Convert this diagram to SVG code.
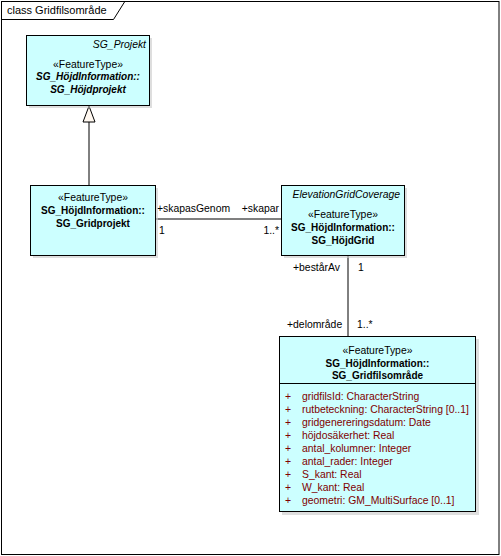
<svg xmlns="http://www.w3.org/2000/svg" width="501" height="556" viewBox="0 0 501 556">
<style>
text{font-family:"Liberation Sans",Arial,sans-serif;fill:#000}
.r{font-size:10.4px}
.b{font-size:10px;font-weight:bold}
.bi{font-size:10px;font-weight:bold;font-style:italic}
.i{font-size:10.4px;font-style:italic}
.m{text-anchor:middle}
.e{text-anchor:end}
.box{fill:#ccffff;stroke:#000;stroke-width:1}
.sh{fill:#c8c8c8;opacity:.6}
.ln{stroke:#000;stroke-width:1;fill:none}
.a{font-size:10.4px;fill:#800000}
</style>
<rect x="0" y="0" width="501" height="556" fill="#fff"/>
<g id="frame">
<rect x="1.5" y="1.5" width="497.5" height="553" fill="none" stroke="#000"/>
<path d="M1.5 19.5 H113.5 L124.5 2" class="ln"/>
<text x="7" y="14" style="font-size:11px">class Gridfilsområde</text>
</g>
<g id="connectors">
<line x1="89" y1="122" x2="89" y2="185" class="ln"/>
<polygon points="89,106 83,122 95,122" fill="#fff8f0" stroke="#000"/>
<line x1="155" y1="219" x2="281" y2="219" class="ln"/>
<text x="157" y="212" class="r">+skapasGenom</text>
<text x="279" y="212" class="r e">+skapar</text>
<text x="159" y="234" class="r">1</text>
<text x="279" y="234" class="r e">1..*</text>
<line x1="348" y1="255" x2="348" y2="336" class="ln"/>
<text x="293" y="271" class="r">+bestårAv</text>
<text x="358" y="271" class="r">1</text>
<text x="287" y="328" class="r">+delområde</text>
<text x="357" y="328" class="r">1..*</text>
</g>
<g id="SG_Hojdprojekt">
<rect x="29" y="38" width="123" height="70" class="sh"/>
<rect x="26.5" y="35.5" width="123" height="70" class="box"/>
<text x="146" y="48" class="i e">SG_Projekt</text>
<text x="88" y="67.5" class="r m">«FeatureType»</text>
<text x="88" y="79.5" class="bi m">SG_HöjdInformation::</text>
<text x="88" y="92.5" class="bi m">SG_Höjdprojekt</text>
</g>
<g id="SG_Gridprojekt">
<rect x="33" y="188" width="125" height="70" class="sh"/>
<rect x="30.5" y="185.5" width="125" height="70" class="box"/>
<text x="93" y="200.5" class="r m">«FeatureType»</text>
<text x="93" y="213.5" class="b m">SG_HöjdInformation::</text>
<text x="93" y="226.5" class="b m">SG_Gridprojekt</text>
</g>
<g id="SG_HojdGrid">
<rect x="284" y="188" width="123" height="70" class="sh"/>
<rect x="281.5" y="185.5" width="123" height="70" class="box"/>
<text x="400" y="198" class="i e">ElevationGridCoverage</text>
<text x="343" y="217.5" class="r m">«FeatureType»</text>
<text x="343" y="230.5" class="b m">SG_HöjdInformation::</text>
<text x="343" y="243.5" class="b m">SG_HöjdGrid</text>
</g>
<g id="SG_Gridfilsomrade">
<rect x="282" y="339" width="197" height="176" class="sh"/>
<rect x="279.5" y="336.5" width="196" height="175" class="box"/>
<line x1="279.5" y1="383.5" x2="475.5" y2="383.5" class="ln"/>
<text x="377.5" y="354" class="r m">«FeatureType»</text>
<text x="377.5" y="366.5" class="b m">SG_HöjdInformation::</text>
<text x="377.5" y="378.5" class="b m">SG_Gridfilsområde</text>
<g class="a">
<text x="285" y="400" class="a">+</text><text x="302" y="400" class="a">gridfilsId: CharacterString</text>
<text x="285" y="413" class="a">+</text><text x="302" y="413" class="a">rutbeteckning: CharacterString [0..1]</text>
<text x="285" y="426" class="a">+</text><text x="302" y="426" class="a">gridgenereringsdatum: Date</text>
<text x="285" y="439" class="a">+</text><text x="302" y="439" class="a">höjdosäkerhet: Real</text>
<text x="285" y="452" class="a">+</text><text x="302" y="452" class="a">antal_kolumner: Integer</text>
<text x="285" y="465" class="a">+</text><text x="302" y="465" class="a">antal_rader: Integer</text>
<text x="285" y="478" class="a">+</text><text x="302" y="478" class="a">S_kant: Real</text>
<text x="285" y="491" class="a">+</text><text x="302" y="491" class="a">W_kant: Real</text>
<text x="285" y="504" class="a">+</text><text x="302" y="504" class="a">geometri: GM_MultiSurface [0..1]</text>
</g>
</g>
</svg>
